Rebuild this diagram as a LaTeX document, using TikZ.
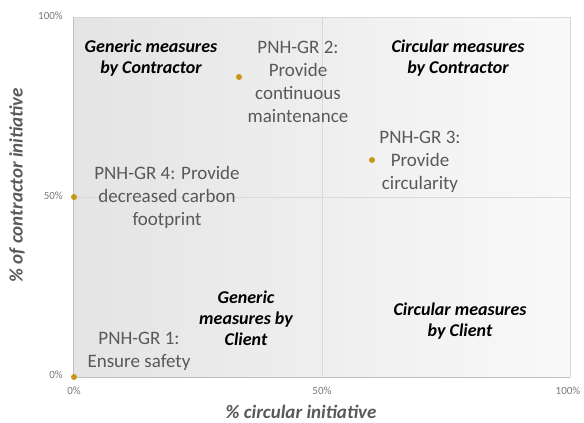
\documentclass[tikz,border=0pt]{standalone}
\usepackage{fontspec}
\setmainfont{Carlito}
\definecolor{gold}{RGB}{200,150,20}
\definecolor{txtgray}{RGB}{89,89,89}
\definecolor{tickgray}{RGB}{120,120,120}
\definecolor{gridgray}{RGB}{217,217,217}
\definecolor{axisgray}{RGB}{191,191,191}
\definecolor{shadeleft}{RGB}{228,228,228}
\definecolor{shaderight}{RGB}{249,249,249}
\begin{document}
\begin{tikzpicture}[x=1pt, y=-1pt,
  dot/.style={circle, fill=gold, inner sep=0pt, minimum size=6pt},
  item/.style={text=txtgray, font=\fontsize{19}{23}\selectfont, align=center, inner sep=0pt},
  quad/.style={font=\fontsize{18}{21}\selectfont\bfseries\itshape, align=center, inner sep=0pt},
  tick/.style={text=tickgray, font=\fontsize{11}{12}\selectfont, inner sep=0pt},
  axlabel/.style={text=txtgray, font=\fontsize{19}{22}\selectfont\bfseries\itshape, inner sep=0pt}]
  \useasboundingbox (0,0) rectangle (584,423);

  % plot area
  \shade[left color=shadeleft, right color=shaderight] (73,17) rectangle (570,377);
  \draw[gridgray] (73,17) -- (570,17) -- (570,377);
  \draw[gridgray] (322,17) -- (322,377);
  \draw[gridgray] (73,197) -- (570,197);
  \draw[axisgray] (73,17) -- (73,377) -- (570,377);

  % ticks
  \node[tick, anchor=east] (y100) at (63,16) {100\%};
  \node[tick, anchor=east] (y50) at (63,196) {50\%};
  \node[tick, anchor=east] (y0) at (63,375) {0\%};
  \node[tick] (x0) at (74,391) {0\%};
  \node[tick] (x50) at (322,391) {50\%};
  \node[tick] (x100) at (568,391) {100\%};

  % axis titles
  \node[axlabel] (xtitle) at (301,412) {\% circular initiative};
  \node[axlabel, rotate=90] (ytitle) at (17,185) {\% of contractor initiative};

  % quadrant titles
  \node[quad] (genC) at (151,58) {Generic measures\\by Contractor};
  \node[quad] (circC) at (458,58) {Circular measures\\by Contractor};
  \node[quad] (genK) at (246,318) {Generic\\measures by\\Client};
  \node[quad] (circK) at (460,321) {Circular measures\\by Client};

  % measures
  \node[dot] (gr1) at (74,377) {};
  \node[dot] (gr2) at (239,77) {};
  \node[dot] (gr3) at (372,160) {};
  \node[dot] (gr4) at (74,197) {};
  \node[item] (gr1txt) at (139,351) {PNH-GR 1:\\Ensure safety};
  \node[item] (gr2txt) at (298,82) {PNH-GR 2:\\Provide\\continuous\\maintenance};
  \node[item] (gr3txt) at (420,162) {PNH-GR 3:\\Provide\\circularity};
  \node[item] (gr4txt) at (167,197) {PNH-GR 4: Provide\\decreased carbon\\footprint};
\end{tikzpicture}
\end{document}
